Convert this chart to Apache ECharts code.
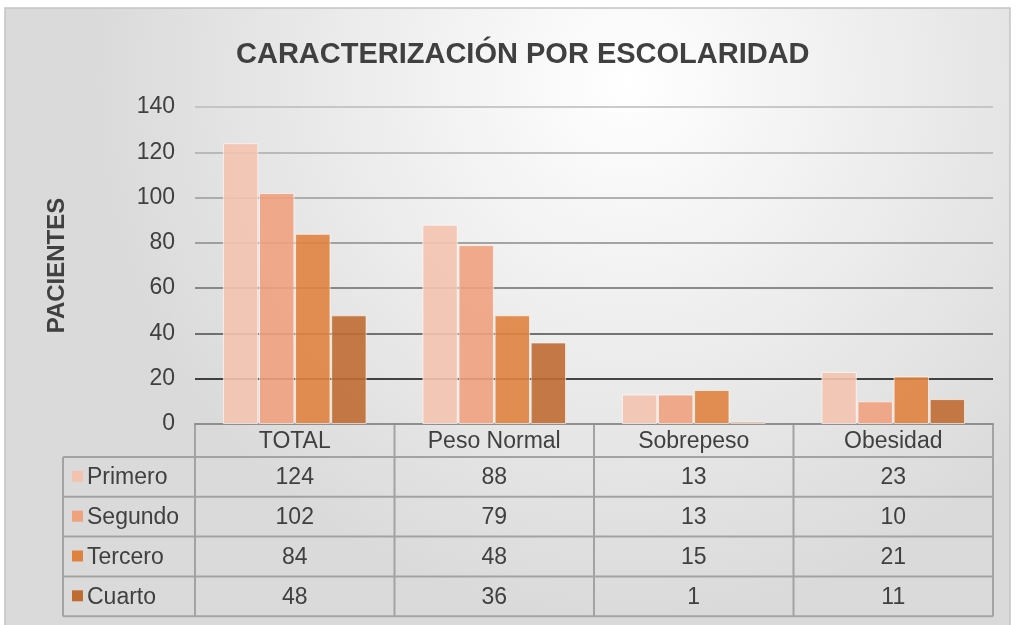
<!DOCTYPE html>
<html lang="es">
<head>
    <meta charset="UTF-8">
    <title>Caracterización por escolaridad</title>
    <script src="https://cdn.jsdelivr.net/npm/echarts@6/dist/echarts.min.js"></script>
    <style>
        html, body { margin: 0; padding: 0; background: #fff; }
        #main { width: 1016px; height: 625px; }
    </style>
</head>
<body>
    <div id="main"></div>
<script>
    // datos
    var categories = ['TOTAL', 'Peso Normal', 'Sobrepeso', 'Obesidad'];
    var seriesNames = ['Primero', 'Segundo', 'Tercero', 'Cuarto'];
    var primero = [124, 88, 13, 23];
    var segundo = [102, 79, 13, 10];
    var tercero = [84, 48, 15, 21];
    var cuarto = [48, 36, 1, 11];
    var yTicks = [0, 20, 40, 60, 80, 100, 120, 140];
    var colors = ['#f4c3b0', '#f0a17e', '#e0823f', '#bf6c33'];
    var gridColors = ['#8c8c8c', '#0d0d0d', '#4a4a4a', '#6a6a6a', '#8a8a8a', '#9a9a9a', '#ababab', '#bababa'];

    var values = [primero, segundo, tercero, cuarto];

    // layout
    var W = 1016, H = 625;
    var plotL = 195, plotR = 993, plotT = 107, plotB = 424;
    var rowH = 39.8, headH = 33;
    var tableL = 63;
    var colW = (plotR - plotL) / categories.length;
    var font = '"Liberation Sans", Arial, sans-serif';
    var fs = 23;

    var myChart = echarts.init(document.getElementById('main'), null, { renderer: 'canvas' });

    var graphic = [];
    // fondo
    graphic.push({
        type: 'rect', z: -10, silent: true,
        shape: { x: 5, y: 8, width: 1005, height: 630 },
        style: {
            fill: new echarts.graphic.RadialGradient(0.62, 0.12, 0.85, [
                { offset: 0, color: '#ffffff' },
                { offset: 1, color: '#dadada' }
            ]),
            stroke: '#c4c4c4', lineWidth: 1.5
        }
    });

    // tabla de datos
    var lineStyle = { stroke: '#a3a3a3', lineWidth: 2 };
    var tableB = plotB + headH + rowH * seriesNames.length;
    for (var c = 0; c <= categories.length; c++) {
        var x = plotL + colW * c;
        graphic.push({ type: 'line', silent: true, shape: { x1: x, y1: plotB, x2: x, y2: tableB }, style: lineStyle });
    }
    graphic.push({ type: 'line', silent: true, shape: { x1: tableL, y1: plotB + headH, x2: tableL, y2: tableB }, style: lineStyle });
    for (var r = 0; r <= seriesNames.length; r++) {
        var y = plotB + headH + rowH * r;
        graphic.push({ type: 'line', silent: true, shape: { x1: tableL, y1: y, x2: plotR, y2: y }, style: lineStyle });
    }
    seriesNames.forEach(function (name, i) {
        var cy = plotB + headH + rowH * i + rowH / 2;
        graphic.push({ type: 'rect', silent: true, shape: { x: 72, y: cy - 6, width: 11, height: 11 }, style: { fill: colors[i] } });
        graphic.push({
            type: 'text', silent: true, x: 87, y: cy + 1,
            style: { text: name, font: fs + 'px ' + font, fill: '#404040', verticalAlign: 'middle', align: 'left' }
        });
        values[i].forEach(function (v, j) {
            graphic.push({
                type: 'text', silent: true, x: plotL + colW * (j + 0.5), y: cy + 1,
                style: { text: String(v), font: fs + 'px ' + font, fill: '#404040', verticalAlign: 'middle', align: 'center' }
            });
        });
    });

    var option = {
        animation: false,
        title: {
            text: 'CARACTERIZACIÓN POR ESCOLARIDAD',
            left: 231,
            top: 35,
            textStyle: { fontFamily: font, fontSize: 29, fontWeight: 'bold', color: '#404040' }
        },
        grid: { left: plotL, right: W - plotR, top: plotT, bottom: H - plotB, containLabel: false },
        xAxis: {
            type: 'category',
            data: categories,
            axisLine: { lineStyle: { color: '#8f8f8f', width: 2 } },
            axisTick: { show: false },
            axisLabel: { margin: 6, fontFamily: font, fontSize: fs, color: '#404040' }
        },
        yAxis: {
            type: 'value',
            min: yTicks[0],
            max: yTicks[yTicks.length - 1],
            interval: yTicks[1] - yTicks[0],
            name: 'PACIENTES',
            nameLocation: 'middle',
            nameGap: 126,
            nameTextStyle: { fontFamily: font, fontSize: 24, fontWeight: 'bold', color: '#404040' },
            axisLabel: { margin: 20, fontFamily: font, fontSize: fs, color: '#404040' },
            splitLine: { lineStyle: { color: gridColors, width: 1.5 } }
        },
        graphic: graphic,
        series: seriesNames.map(function (name, i) {
            return {
                name: name,
                type: 'bar',
                data: values[i],
                barGap: '2%',
                barCategoryGap: '28%',
                itemStyle: { color: colors[i], opacity: 0.9, borderColor: 'rgba(255,255,255,0.7)', borderWidth: 1 }
            };
        })
    };

    myChart.setOption(option);
</script>
</body>
</html>
